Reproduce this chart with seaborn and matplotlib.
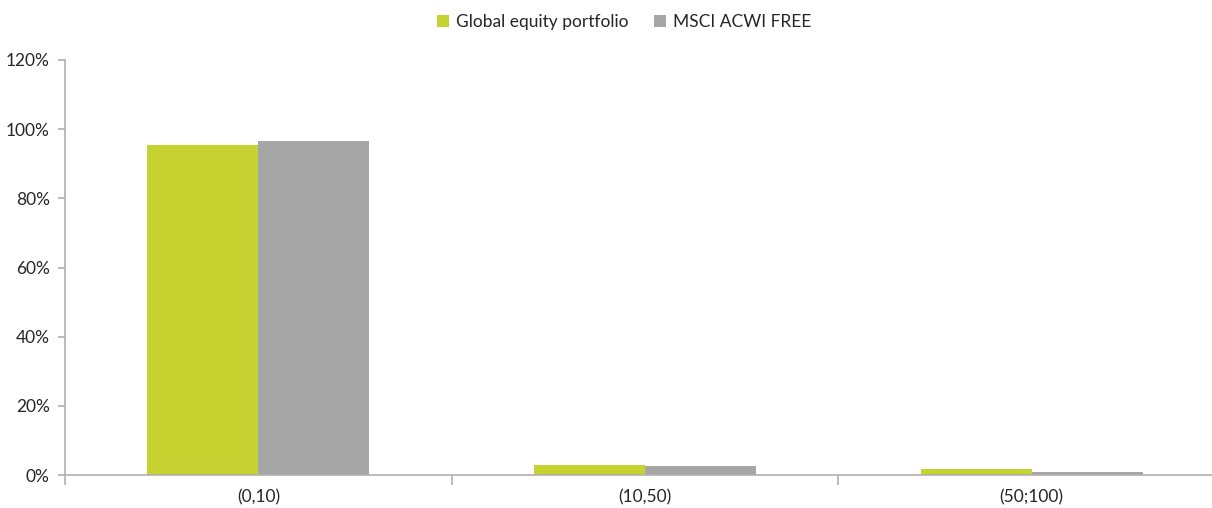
import matplotlib
matplotlib.use("Agg")
import matplotlib.pyplot as plt
import seaborn as sns
import pandas as pd
from matplotlib.ticker import FuncFormatter, FixedLocator

categories = ["(0,10)", "(10,50)", "(50;100)"]
series_names = ["Global equity portfolio", "MSCI ACWI FREE"]
portfolio = [0.954, 0.029, 0.017]
benchmark = [0.966, 0.026, 0.008]
colors = ["#c5d230", "#a6a6a6"]

df = pd.DataFrame({
    "cat": categories * 2,
    "series": [series_names[0]] * 3 + [series_names[1]] * 3,
    "value": portfolio + benchmark,
})

sns.set_theme(style="white")
plt.rcParams["font.family"] = ["Lato", "DejaVu Sans"]

fig = plt.figure(figsize=(12.12, 5.08), dpi=100)
ax = fig.add_axes([65 / 1212, 1 - 475 / 508, (1225 - 65) / 1212, (475 - 60) / 508])

sns.barplot(data=df, x="cat", y="value", hue="series", palette=colors,
            width=0.574, saturation=1, ax=ax, legend=True, linewidth=0)

axis_col = "#b0b0b0"
ax.set_ylim(0, 1.2)
ax.set_xlim(-0.5, 2.5)
ax.yaxis.set_major_locator(FixedLocator([0, 0.2, 0.4, 0.6, 0.8, 1.0, 1.2]))
ax.yaxis.set_major_formatter(FuncFormatter(lambda v, p: f"{v*100:.0f}%"))
ax.set_xlabel("")
ax.set_ylabel("")

for s in ["top", "right"]:
    ax.spines[s].set_visible(False)
for s in ["left", "bottom"]:
    ax.spines[s].set_color(axis_col)
    ax.spines[s].set_linewidth(1.2)

ax.tick_params(axis="y", which="major", left=True, length=5, width=1.2,
               color=axis_col, labelsize=12.5, labelcolor="#262626", pad=6)
ax.tick_params(axis="x", which="major", bottom=False, length=0, labelsize=12.5,
               labelcolor="#262626", pad=10)
ax.xaxis.set_minor_locator(FixedLocator([-0.5, 0.5, 1.5, 2.5]))
ax.tick_params(axis="x", which="minor", bottom=True, length=7, width=1.2,
               color=axis_col)

handles, labels = ax.get_legend_handles_labels()
ax.legend(handles, labels, loc="upper center", bbox_to_anchor=(624 / 1212, 0.997),
          bbox_transform=fig.transFigure, ncol=2, frameon=False, fontsize=12.5,
          handlelength=0.7, handleheight=0.7, handletextpad=0.4, columnspacing=1.5,
          labelcolor="#262626", borderaxespad=0.3)

fig.savefig("out.png", dpi=100)
